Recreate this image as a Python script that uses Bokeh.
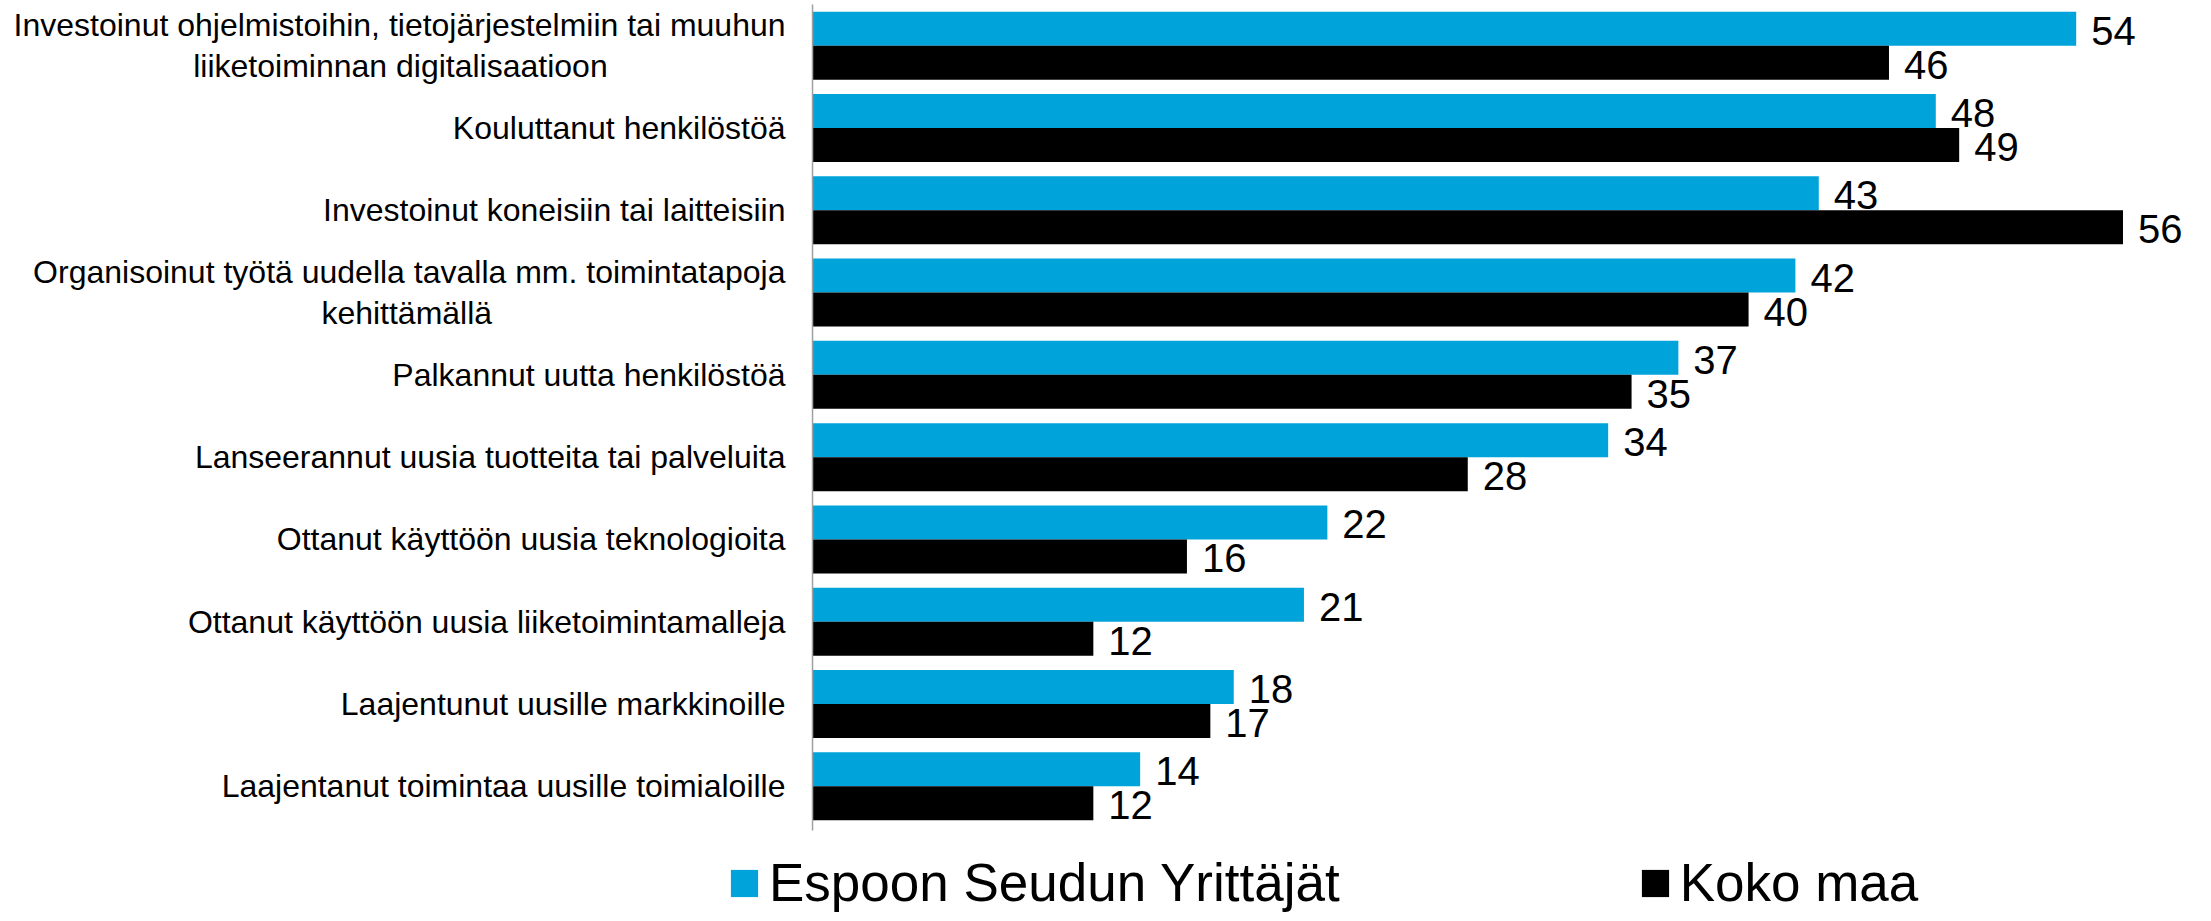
from bokeh.plotting import figure
from bokeh.models import ColumnDataSource, Range1d, Legend, LegendItem
from bokeh.transform import dodge
from bokeh.core.properties import value
from bokeh.embed import file_html
from bokeh.resources import INLINE

NBSP = "\u00a0"
categories = [
    "Investoinut ohjelmistoihin, tietojärjestelmiin tai muuhun\nliiketoiminnan digitalisaatioon" + NBSP * 20,
    "Kouluttanut henkilöstöä",
    "Investoinut koneisiin tai laitteisiin",
    "Organisoinut työtä uudella tavalla mm. toimintatapoja\nkehittämällä" + NBSP * 33,
    "Palkannut uutta henkilöstöä",
    "Lanseerannut uusia tuotteita tai palveluita",
    "Ottanut käyttöön uusia teknologioita",
    "Ottanut käyttöön uusia liiketoimintamalleja",
    "Laajentunut uusille markkinoille",
    "Laajentanut toimintaa uusille toimialoille",
]
espoo = [54, 48, 43, 42, 37, 34, 22, 21, 18, 14]
koko_maa = [46, 49, 56, 40, 35, 28, 16, 12, 17, 12]
series_names = ["Espoon Seudun Yrittäjät", "Koko maa"]

BLUE = "#00A3DA"
BLACK = "#000000"
FONT = "Liberation Sans"

pos = list(range(len(categories)))
src = ColumnDataSource(dict(
    y=pos,
    cat=categories,
    zero=[0] * len(pos),
    espoo=espoo,
    koko=koko_maa,
    espoo_txt=[str(v) for v in espoo],
    koko_txt=[str(v) for v in koko_maa],
))

y_top = pos[0] - 0.5
y_axis_end = pos[-1] + 0.5365

p = figure(
    width=2203, height=913,
    x_range=Range1d(-34.70, 59.44),
    y_range=Range1d(10.545, y_top - 0.0486),
    output_backend="svg", toolbar_location=None,
    x_axis_location=None, y_axis_location=None,
    min_border_left=0, min_border_right=0, min_border_top=0, min_border_bottom=0,
)
p.outline_line_color = None
p.xgrid.visible = False
p.ygrid.visible = False
p.background_fill_color = "white"
p.border_fill_color = "white"

bh = 0.413
r1 = p.hbar(y=dodge("y", -bh / 2), right="espoo", left=0, height=bh, source=src,
            fill_color=BLUE, line_color=None)
r2 = p.hbar(y=dodge("y", bh / 2), right="koko", left=0, height=bh, source=src,
            fill_color=BLACK, line_color=None)

# category axis line
p.segment(x0=[0], y0=[y_top], x1=[0], y1=[y_axis_end], line_color="#A0A0A0", line_width=1.5)

# category labels
p.text(x="zero", y="y", text="cat", source=src,
       x_offset=-27, text_baseline="middle", text_align="right",
       text_line_height=1.13,
       text_font=value(FONT), text_font_size="32px", text_color="black")

# value labels
p.text(x="espoo", y=dodge("y", -bh / 2), text="espoo_txt", source=src,
       x_offset=15, y_offset=2, text_baseline="middle", text_align="left",
       text_font=value(FONT), text_font_size="40px", text_color="black")
p.text(x="koko", y=dodge("y", bh / 2), text="koko_txt", source=src,
       x_offset=15, y_offset=2, text_baseline="middle", text_align="left",
       text_font=value(FONT), text_font_size="40px", text_color="black")

legend = Legend(
    items=[LegendItem(label=series_names[0], renderers=[r1]),
           LegendItem(label=series_names[1], renderers=[r2])],
    orientation="horizontal",
    location=(727, 0),
    glyph_width=34, glyph_height=34,
    label_standoff=8, spacing=298,
    label_text_font=FONT, label_text_font_size="53px", label_text_color="black",
    padding=0, margin=0,
    border_line_color=None, background_fill_alpha=0,
)
p.add_layout(legend, "center")

open("out.html", "w").write(file_html(p, INLINE))
